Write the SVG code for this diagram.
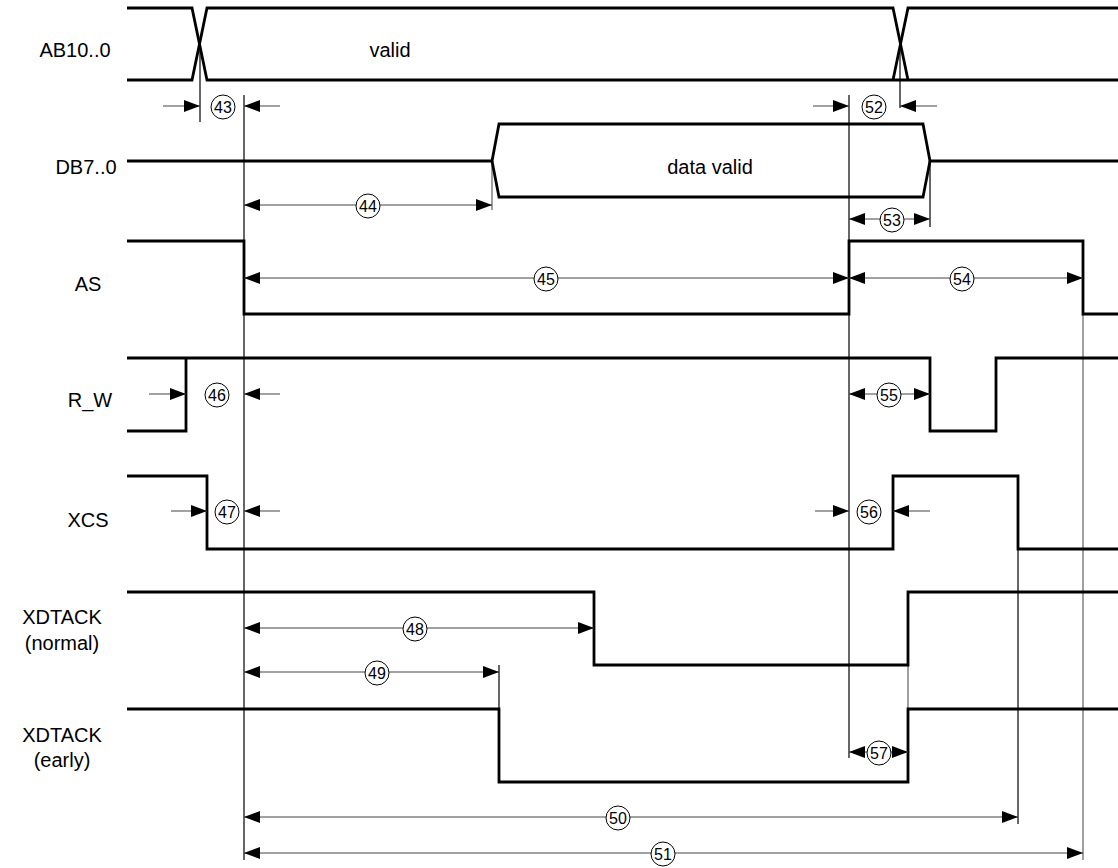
<svg xmlns="http://www.w3.org/2000/svg" width="1118" height="868" viewBox="0 0 1118 868">
<style>
.sig{fill:none;stroke:#000;stroke-width:2.8;stroke-linejoin:miter}
.ref{fill:none;stroke:#000;stroke-width:1.2}
.refg{fill:none;stroke:#777;stroke-width:1.4}
.dim{fill:none;stroke:#444;stroke-width:1.2}
.lbl{font-family:"Liberation Sans",Arial,sans-serif;font-size:20px;fill:#000;text-anchor:middle}
.num{font-family:"Liberation Sans",Arial,sans-serif;font-size:16px;fill:#000;text-anchor:middle}
.cir{fill:#fff;stroke:#000;stroke-width:1}
</style>
<defs>
<marker id="ah" markerUnits="userSpaceOnUse" markerWidth="17" markerHeight="13" refX="16" refY="6" orient="auto-start-reverse" overflow="visible">
<path d="M0,0 L16,6 L0,12 z" fill="#000"/>
</marker>
</defs>
<rect width="1118" height="868" fill="#fff"/>

<g id="labels">
<text class="lbl" x="75" y="57">AB10..0</text>
<text class="lbl" x="86" y="174">DB7..0</text>
<text class="lbl" x="88" y="291">AS</text>
<text class="lbl" x="90" y="407">R_W</text>
<text class="lbl" x="88" y="527">XCS</text>
<text class="lbl" x="62" y="624">XDTACK</text>
<text class="lbl" x="62" y="650">(normal)</text>
<text class="lbl" x="62" y="742">XDTACK</text>
<text class="lbl" x="62" y="767">(early)</text>
</g>

<g id="reflines">
<line class="ref" x1="244" y1="95" x2="244" y2="860"/>
<line class="ref" x1="849" y1="95" x2="849" y2="758"/>
<line class="ref" x1="200" y1="44" x2="200" y2="122"/>
<line class="ref" x1="900" y1="44" x2="900" y2="108"/>
<line class="refg" x1="492" y1="161" x2="492" y2="210"/>
<line class="ref" x1="930" y1="161" x2="930" y2="227"/>
<line class="ref" x1="1018" y1="549" x2="1018" y2="824"/>
<line class="refg" x1="1083" y1="313" x2="1083" y2="860"/>
<line class="ref" x1="499" y1="665" x2="499" y2="709"/>
<line class="refg" x1="908" y1="665" x2="908" y2="709"/>
</g>

<g id="AB">
<polyline class="sig" points="127,8 192,8 207,80 1118,80"/>
<polyline class="sig" points="127,80 192,80 207,8 893,8 908,80"/>
<polyline class="sig" points="893,80 908,8 1118,8"/>
<text class="lbl" x="390" y="57">valid</text>
</g>

<g id="DB">
<polyline class="sig" points="127,161 492,161 499,124 923,124 930,161 1118,161"/>
<polyline class="sig" points="492,161 499,197 923,197 930,161"/>
<text class="lbl" x="710" y="174">data valid</text>
</g>

<g id="AS">
<polyline class="sig" points="127,241 244,241 244,314 849,314 849,241 1083,241 1083,314 1118,314"/>
</g>

<g id="RW">
<polyline class="sig" points="127,431 186,431 186,358"/>
<polyline class="sig" points="127,358 930,358 930,431 996,431 996,358 1118,358"/>
</g>

<g id="XCS">
<polyline class="sig" points="127,476 207,476 207,549 893,549 893,476 1018,476 1018,549 1118,549"/>
</g>

<g id="XDTACK_normal">
<polyline class="sig" points="127,592 594,592 594,665 908,665 908,592 1118,592"/>
</g>

<g id="XDTACK_early">
<polyline class="sig" points="127,709 499,709 499,782 908,782 908,709 1118,709"/>
</g>

<g id="connectors">
<line class="dim" x1="163" y1="106" x2="200" y2="106" marker-end="url(#ah)"/>
<line class="dim" x1="280" y1="106" x2="244" y2="106" marker-end="url(#ah)"/>
<line class="dim" x1="813" y1="106" x2="849" y2="106" marker-end="url(#ah)"/>
<line class="dim" x1="937" y1="106" x2="900" y2="106" marker-end="url(#ah)"/>
<line class="dim" x1="244" y1="205" x2="492" y2="205" marker-start="url(#ah)" marker-end="url(#ah)"/>
<line class="dim" x1="849" y1="219" x2="930" y2="219" marker-start="url(#ah)" marker-end="url(#ah)"/>
<line class="dim" x1="244" y1="278" x2="849" y2="278" marker-start="url(#ah)" marker-end="url(#ah)"/>
<line class="dim" x1="849" y1="278" x2="1083" y2="278" marker-start="url(#ah)" marker-end="url(#ah)"/>
<line class="dim" x1="149" y1="394" x2="186" y2="394" marker-end="url(#ah)"/>
<line class="dim" x1="280" y1="394" x2="244" y2="394" marker-end="url(#ah)"/>
<line class="dim" x1="849" y1="394" x2="930" y2="394" marker-start="url(#ah)" marker-end="url(#ah)"/>
<line class="dim" x1="171" y1="511" x2="207" y2="511" marker-end="url(#ah)"/>
<line class="dim" x1="280" y1="511" x2="244" y2="511" marker-end="url(#ah)"/>
<line class="dim" x1="815" y1="511" x2="849" y2="511" marker-end="url(#ah)"/>
<line class="dim" x1="930" y1="511" x2="893" y2="511" marker-end="url(#ah)"/>
<line class="dim" x1="244" y1="628" x2="594" y2="628" marker-start="url(#ah)" marker-end="url(#ah)"/>
<line class="dim" x1="244" y1="672" x2="499" y2="672" marker-start="url(#ah)" marker-end="url(#ah)"/>
<line class="dim" x1="849" y1="752" x2="908" y2="752" marker-start="url(#ah)" marker-end="url(#ah)"/>
<line class="dim" x1="244" y1="817" x2="1018" y2="817" marker-start="url(#ah)" marker-end="url(#ah)"/>
<line class="dim" x1="244" y1="853" x2="1083" y2="853" marker-start="url(#ah)" marker-end="url(#ah)"/>
</g>

<g id="callouts">
<circle class="cir" cx="223" cy="107" r="12"/><text class="num" x="223" y="113">43</text>
<circle class="cir" cx="874" cy="107" r="12"/><text class="num" x="874" y="113">52</text>
<circle class="cir" cx="368" cy="206" r="12"/><text class="num" x="368" y="212">44</text>
<circle class="cir" cx="892" cy="220" r="12"/><text class="num" x="892" y="226">53</text>
<circle class="cir" cx="546" cy="279" r="12"/><text class="num" x="546" y="285">45</text>
<circle class="cir" cx="962" cy="279" r="12"/><text class="num" x="962" y="285">54</text>
<circle class="cir" cx="217" cy="395" r="12"/><text class="num" x="217" y="401">46</text>
<circle class="cir" cx="889" cy="395" r="12"/><text class="num" x="889" y="401">55</text>
<circle class="cir" cx="227" cy="512" r="12"/><text class="num" x="227" y="518">47</text>
<circle class="cir" cx="869" cy="512" r="12"/><text class="num" x="869" y="518">56</text>
<circle class="cir" cx="415" cy="629" r="12"/><text class="num" x="415" y="635">48</text>
<circle class="cir" cx="377" cy="673" r="12"/><text class="num" x="377" y="679">49</text>
<circle class="cir" cx="879" cy="753" r="12"/><text class="num" x="879" y="759">57</text>
<circle class="cir" cx="618" cy="818" r="12"/><text class="num" x="618" y="824">50</text>
<circle class="cir" cx="663" cy="854" r="12"/><text class="num" x="663" y="860">51</text>
</g>
</svg>
